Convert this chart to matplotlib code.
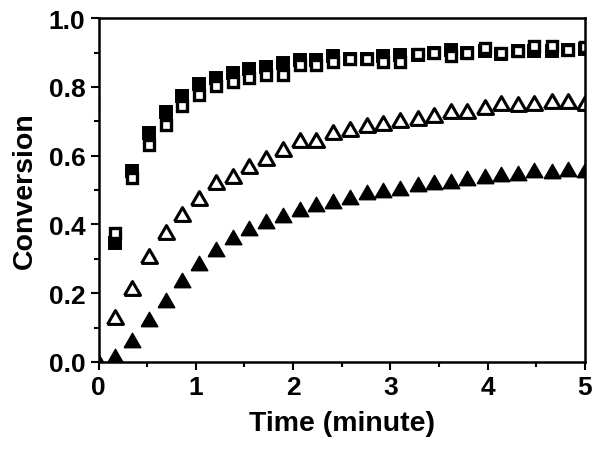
import matplotlib
matplotlib.use("Agg")
import matplotlib.pyplot as plt
from matplotlib.ticker import MultipleLocator, FormatStrFormatter

plt.rcParams['font.family'] = ['Liberation Sans', 'DejaVu Sans']
plt.rcParams['font.weight'] = 'bold'

# time points (minute)
time = [0.00, 0.17, 0.34, 0.52, 0.69, 0.86, 1.03, 1.21, 1.38, 1.55,
        1.72, 1.90, 2.07, 2.24, 2.41, 2.59, 2.76, 2.93, 3.10, 3.28,
        3.45, 3.62, 3.79, 3.97, 4.14, 4.31, 4.48, 4.66, 4.83, 5.00]

# filled squares (first point at t=0.17)
sq_filled = [0.347, 0.554, 0.666, 0.728, 0.773, 0.809, 0.825, 0.841, 0.852,
             0.857, 0.870, 0.877, 0.877, 0.889, 0.880, 0.880, 0.891, 0.893, 0.892,
             0.899, 0.908, 0.899, 0.905, 0.897, 0.905, 0.905, 0.905, 0.907, 0.910]
# open squares
sq_open = [0.376, 0.536, 0.630, 0.688, 0.745, 0.777, 0.803, 0.815, 0.827,
           0.834, 0.834, 0.863, 0.863, 0.873, 0.880, 0.880, 0.873, 0.873, 0.895,
           0.899, 0.890, 0.899, 0.912, 0.900, 0.905, 0.918, 0.918, 0.907, 0.915]
# open triangles
tri_open = [0.130, 0.214, 0.307, 0.379, 0.430, 0.477, 0.524, 0.541, 0.570,
            0.592, 0.619, 0.646, 0.646, 0.668, 0.679, 0.689, 0.695, 0.704, 0.711,
            0.718, 0.731, 0.731, 0.743, 0.753, 0.750, 0.753, 0.760, 0.760, 0.753]
# filled triangles (includes t=0)
tri_filled = [0.000, 0.016, 0.065, 0.124, 0.181, 0.239, 0.287, 0.329, 0.364, 0.389,
              0.409, 0.427, 0.445, 0.460, 0.469, 0.479, 0.495, 0.501, 0.507, 0.517,
              0.522, 0.527, 0.535, 0.542, 0.547, 0.551, 0.558, 0.556, 0.561, 0.559]

tri = [(-1, -0.866), (1, -0.866), (0, 0.866), (-1, -0.866)]

fig = plt.figure(figsize=(6.01, 4.56), dpi=100)
ax = fig.add_axes([0.164, 0.204, 0.809, 0.754])

t1 = time[1:]
ax.plot(t1, sq_filled, linestyle='none', marker='s', ms=8.6, mew=1.4,
        mfc='black', mec='black', zorder=3)
ax.plot(t1, sq_open, linestyle='none', marker='s', ms=7.6, mew=2.4,
        mfc='white', mec='black', zorder=4)
ax.plot(t1, tri_open, linestyle='none', marker=tri, ms=11.5, mew=2.2,
        mfc='white', mec='black', zorder=3)
ax.plot(time, tri_filled, linestyle='none', marker=tri, ms=12.0, mew=1.0,
        mfc='black', mec='black', zorder=3)

ax.set_xlim(0, 5)
ax.set_ylim(0, 1.0)
ax.xaxis.set_major_locator(MultipleLocator(1))
ax.xaxis.set_minor_locator(MultipleLocator(0.5))
ax.yaxis.set_major_locator(MultipleLocator(0.2))
ax.yaxis.set_minor_locator(MultipleLocator(0.1))
ax.yaxis.set_major_formatter(FormatStrFormatter('%.1f'))

for s in ax.spines.values():
    s.set_linewidth(1.8)
    s.set_zorder(5)
ax.tick_params(which='both', direction='out', top=False, right=False, width=1.5,
               labelsize=19)
ax.tick_params(which='major', length=6)
ax.tick_params(which='minor', length=3.5)
for lab in ax.get_xticklabels() + ax.get_yticklabels():
    lab.set_fontweight('bold')

ax.set_xlabel('Time (minute)', fontsize=20.5, fontweight='bold', labelpad=8)
ax.set_ylabel('Conversion', fontsize=20.5, fontweight='bold', labelpad=8)

fig.savefig('out.png', dpi=100)
